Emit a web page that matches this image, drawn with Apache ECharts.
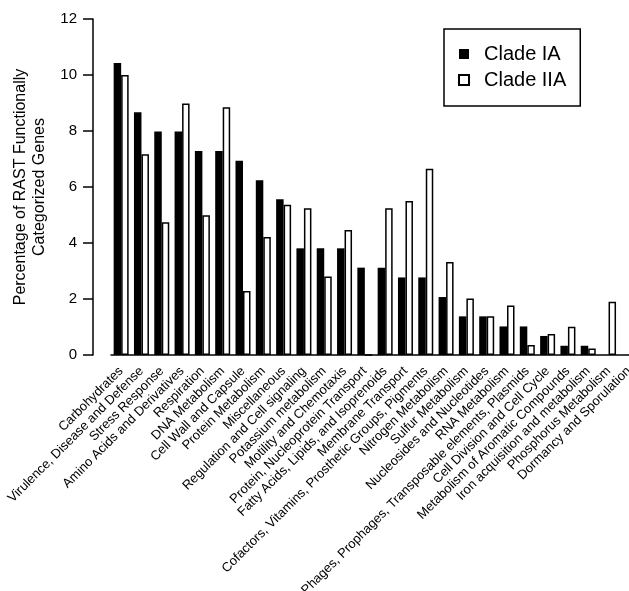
<!DOCTYPE html>
<html>
<head>
<meta charset="utf-8">
<script src="https://cdn.jsdelivr.net/npm/echarts@6/dist/echarts.min.js"></script>
<style>
  html, body { margin: 0; padding: 0; background: #fff; }
  #chart { width: 629px; height: 591px; }
</style>
</head>
<body>
<div id="chart"></div>
<script>
// categories along the x axis
const categories = [
  'Carbohydrates',
  'Virulence, Disease and Defense',
  'Stress Response',
  'Amino Acids and Derivatives',
  'Respiration',
  'DNA Metabolism',
  'Cell Wall and Capsule',
  'Protein Metabolism',
  'Miscellaneous',
  'Regulation and Cell signaling',
  'Potassium metabolism',
  'Motility and Chemotaxis',
  'Protein, Nucleoprotein Transport',
  'Fatty Acids, Lipids, and Isoprenoids',
  'Membrane Transport',
  'Cofactors, Vitamins, Prosthetic Groups, Pigments',
  'Nitrogen Metabolism',
  'Sulfur Metabolism',
  'Nucleosides and Nucleotides',
  'RNA Metabolism',
  'Phages, Prophages, Transposable elements, Plasmids',
  'Cell Division and Cell Cycle',
  'Metabolism of Aromatic Compounds',
  'Iron acquisition and metabolism',
  'Phosphorus Metabolism',
  'Dormancy and Sporulation'
];

// percentages
const cladeIA = [10.43, 8.67, 7.98, 7.98, 7.29, 7.29, 6.94, 6.24, 5.56, 3.81, 3.81, 3.81, 3.12, 3.12, 2.77, 2.77, 2.07, 1.38, 1.38, 1.02, 1.02, 0.68, 0.33, 0.33, 0, 0];
const cladeIIA = [10.0, 7.17, 4.74, 8.98, 4.99, 8.85, 2.29, 4.21, 5.37, 5.24, 2.8, 4.46, 0, 5.24, 5.5, 6.65, 3.32, 2.02, 1.38, 1.77, 0.36, 0.75, 1.01, 0.23, 1.9, 0];

const yTicks = { min: 0, max: 12, step: 2 };

const font = '"Liberation Sans", Arial, sans-serif';

const chart = echarts.init(document.getElementById('chart'));
chart.setOption({
  animation: false,
  textStyle: { fontFamily: font, color: '#000' },
  grid: { left: 111, top: 19, width: 528, bottom: 236, containLabel: false, outerBoundsMode: 'none' },
  legend: {
    orient: 'vertical',
    left: 444,
    top: 29,
    padding: [15, 14, 16, 14],
    borderColor: '#000',
    borderWidth: 1.5,
    itemGap: 6,
    itemWidth: 10,
    itemHeight: 10,
    icon: 'rect',
    textStyle: { fontSize: 20, color: '#000', fontFamily: font, padding: [0, 0, 0, 10] },
    data: ['Clade IA', 'Clade IIA']
  },
  xAxis: {
    type: 'category',
    data: categories,
    axisLine: { lineStyle: { color: '#000', width: 1.5 } },
    axisTick: { alignWithLabel: true, length: 10, lineStyle: { color: '#000', width: 1.5 } },
    axisLabel: { interval: 0, rotate: 45, fontSize: 13, margin: 14, color: '#000', fontFamily: font }
  },
  yAxis: {
    type: 'value',
    min: yTicks.min,
    max: yTicks.max,
    interval: yTicks.step,
    offset: 18,
    name: 'Percentage of RAST Functionally\nCategorized Genes',
    nameLocation: 'middle',
    nameGap: 42,
    nameTextStyle: { fontSize: 16, lineHeight: 19, color: '#000', fontFamily: font },
    splitLine: { show: false },
    axisLine: { show: true, lineStyle: { color: '#000', width: 1.5 } },
    axisTick: { show: true, length: 10, lineStyle: { color: '#000', width: 1.5 } },
    axisLabel: { fontSize: 15, margin: 16, color: '#000', fontFamily: font }
  },
  series: [
    {
      name: 'Clade IA',
      type: 'bar',
      data: cladeIA,
      barWidth: 7.5,
      barGap: '0%',
      itemStyle: { color: '#000' }
    },
    {
      name: 'Clade IIA',
      type: 'bar',
      data: cladeIIA,
      barWidth: 7.5,
      itemStyle: { color: '#fff', borderColor: '#000', borderWidth: 1.5 }
    }
  ]
});
</script>
</body>
</html>
